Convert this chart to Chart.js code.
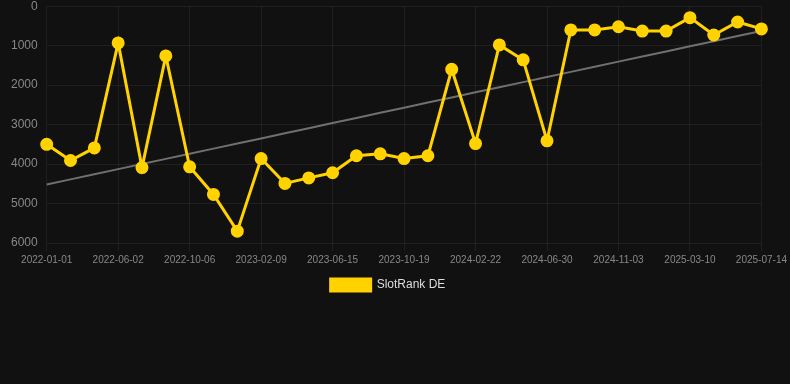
<!DOCTYPE html>
<html>
<head>
<meta charset="utf-8">
<script src="https://cdn.jsdelivr.net/npm/chart.js@4.4.0/dist/chart.umd.min.js"></script>
<style>
  html, body { margin: 0; padding: 0; background: #111111; overflow: hidden; }
  #wrap { position: relative; width: 790px; height: 311px; margin-top: -10px; }
</style>
</head>
<body>
<div id="wrap"><canvas id="c"></canvas></div>
<script>
const dates = [
  "2022-01-01","2022-02-20","2022-04-11","2022-06-02","2022-07-14","2022-08-25",
  "2022-10-06","2022-11-17","2022-12-29","2023-02-09","2023-03-23","2023-05-04",
  "2023-06-15","2023-07-27","2023-09-07","2023-10-19","2023-11-30","2024-01-11",
  "2024-02-22","2024-04-04","2024-05-16","2024-06-30","2024-08-11","2024-09-22",
  "2024-11-03","2024-12-15","2025-01-26","2025-03-10","2025-04-21","2025-06-02",
  "2025-07-14"
];
const rankDE = [
  3500, 3910, 3590, 930, 4090, 1260, 4070, 4770, 5700, 3860, 4490, 4350,
  4220, 3790, 3740, 3860, 3790, 1600, 3480, 980, 1360, 3410, 600, 600,
  520, 630, 630, 290, 730, 400, 575
];
const yTicks = [0, 1000, 2000, 3000, 4000, 5000, 6000];
const seriesName = "SlotRank DE";

// least-squares trend over the series
const n = rankDE.length;
const mx = (n - 1) / 2;
const my = rankDE.reduce((a, b) => a + b, 0) / n;
let sxy = 0, sxx = 0;
rankDE.forEach((v, i) => { sxy += (i - mx) * (v - my); sxx += (i - mx) * (i - mx); });
const slope = sxy / sxx;
const trend = rankDE.map((_, i) => my + slope * (i - mx));

const legendShift = {
  id: "legendShift",
  afterLayout(chart) {
    const lg = chart.legend;
    if (lg) { lg.left -= 7; lg.right -= 7; }
  }
};

new Chart(document.getElementById("c"), {
  type: "line",
  data: {
    labels: dates,
    datasets: [
      {
        label: seriesName,
        data: rankDE,
        borderColor: "#FFD200",
        backgroundColor: "#FFD200",
        borderWidth: 3,
        pointRadius: 5,
        pointHoverRadius: 5,
        pointBackgroundColor: "#FFD200",
        pointBorderColor: "#FFD200",
        tension: 0,
        order: 1
      },
      {
        label: "trend",
        data: trend,
        borderColor: "#707070",
        borderWidth: 2,
        pointRadius: 0,
        fill: false,
        tension: 0,
        order: 2
      }
    ]
  },
  plugins: [legendShift],
  options: {
    responsive: true,
    maintainAspectRatio: false,
    animation: false,
    layout: { padding: { top: 0, right: 2, left: 2 } },
    plugins: {
      legend: {
        position: "bottom",
        labels: {
          color: "#dddddd",
          font: { family: "Liberation Sans, Arial, sans-serif", size: 12 },
          boxWidth: 40,
          boxHeight: 12,
          padding: 10,
          filter: (item) => item.text === seriesName
        }
      },
      tooltip: { enabled: false }
    },
    scales: {
      x: {
        offset: false,
        ticks: {
          color: "#888888",
          font: { family: "Liberation Sans, Arial, sans-serif", size: 10 },
          maxRotation: 0,
          autoSkip: false,
          callback: function (val, idx) { return idx % 3 === 0 ? this.getLabelForValue(val) : null; }
        },
        grid: { color: "rgba(255,255,255,0.06)", tickLength: 8 },
        border: { display: false }
      },
      y: {
        reverse: true,
        min: yTicks[0],
        max: yTicks[yTicks.length - 1],
        afterBuildTicks: (axis) => { axis.ticks = yTicks.map(v => ({ value: v })); },
        ticks: {
          color: "#888888",
          font: { family: "Liberation Sans, Arial, sans-serif", size: 12 },
          padding: 9,
          callback: (v) => String(v)
        },
        grid: { color: "rgba(255,255,255,0.06)", drawTicks: false },
        border: { display: false }
      }
    }
  }
});
</script>
</body>
</html>
